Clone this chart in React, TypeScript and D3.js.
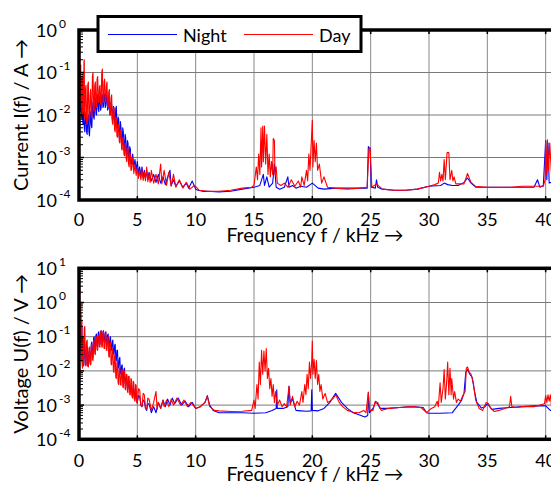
import React from "react";
import * as d3 from "d3";

// ---------- data ----------
const FREQ_TICKS = [0, 5, 10, 15, 20, 25, 30, 35, 40];
const CURRENT_EXPONENTS = [0, -1, -2, -3, -4];
const VOLTAGE_EXPONENTS = [1, 0, -1, -2, -3, -4];
const SERIES_NAMES = ["Night", "Day"];

// [frequency kHz, current A]
const currentNight: [number, number][] = [
  [0.0, 0.05], [0.025, 0.015], [0.05, 0.02], [0.075, 0.04], [0.1, 0.06], [0.125, 0.02], [0.15, 0.012],
  [0.175, 0.025], [0.2, 0.03], [0.225, 0.01], [0.25, 0.008], [0.275, 0.018], [0.3, 0.02], [0.325, 0.007],
  [0.35, 0.006], [0.375, 0.012], [0.4, 0.015], [0.45, 0.005], [0.5, 0.004], [0.55, 0.009], [0.6, 0.012],
  [0.65, 0.004], [0.7, 0.0035], [0.75, 0.008], [0.8, 0.01], [0.85, 0.004], [0.9, 0.0032], [0.95, 0.007],
  [1.0, 0.012], [1.05, 0.006], [1.1, 0.005], [1.15, 0.014], [1.2, 0.02], [1.25, 0.009], [1.3, 0.008],
  [1.35, 0.02], [1.4, 0.025], [1.45, 0.011], [1.5, 0.01], [1.55, 0.022], [1.6, 0.03], [1.65, 0.014],
  [1.7, 0.012], [1.75, 0.028], [1.8, 0.025], [1.85, 0.013], [1.9, 0.015], [1.95, 0.03], [2.0, 0.03],
  [2.05, 0.015], [2.1, 0.016], [2.15, 0.032], [2.2, 0.028], [2.25, 0.015], [2.3, 0.017], [2.35, 0.03],
  [2.4, 0.025], [2.45, 0.013], [2.5, 0.014], [2.55, 0.025], [2.6, 0.022], [2.65, 0.01], [2.7, 0.011],
  [2.75, 0.02], [2.8, 0.018], [2.85, 0.008], [2.9, 0.008], [2.95, 0.016], [3.0, 0.014], [3.05, 0.006],
  [3.1, 0.006], [3.15, 0.014], [3.2, 0.016], [3.25, 0.005], [3.3, 0.005], [3.35, 0.009], [3.4, 0.008],
  [3.45, 0.003], [3.5, 0.003], [3.55, 0.007], [3.6, 0.005], [3.65, 0.002], [3.7, 0.0022], [3.75, 0.005],
  [3.8, 0.004], [3.85, 0.0015], [3.9, 0.0016], [3.95, 0.0035], [4.0, 0.003], [4.05, 0.0011], [4.1, 0.0012],
  [4.15, 0.0025], [4.2, 0.0022], [4.25, 0.0009], [4.3, 0.0009], [4.35, 0.0018], [4.4, 0.0016], [4.45, 0.0007],
  [4.5, 0.0007], [4.6, 0.0012], [4.7, 0.0006], [4.8, 0.0009], [4.9, 0.0005], [5.0, 0.0008], [5.1, 0.00042],
  [5.2, 0.0006], [5.3, 0.00038], [5.4, 0.0006], [5.5, 0.00034], [5.6, 0.0005], [5.7, 0.00032], [5.8, 0.0005],
  [5.9, 0.0003], [6.0, 0.00045], [6.2, 0.00028], [6.4, 0.0004], [6.6, 0.00026], [6.8, 0.0004], [7.0, 0.00025],
  [7.2, 0.00035], [7.4, 0.00023], [7.6, 0.00035], [7.8, 0.0005], [7.9, 0.00022], [8.1, 0.0003], [8.3, 0.00021],
  [8.6, 0.00028], [8.9, 0.0002], [9.2, 0.00025], [9.4, 0.00019], [9.7, 0.00028], [10.0, 0.00018],
  [10.2, 0.00017], [10.6, 0.00016], [11.0, 0.00016], [12.0, 0.000155], [13.0, 0.00016], [14.0, 0.00018],
  [15.0, 0.0002], [15.5, 0.00022], [15.8, 0.0004], [15.9, 0.00022], [16.1, 0.00035], [16.3, 0.0002],
  [16.6, 0.00025], [16.75, 0.0007], [16.9, 0.0002], [17.2, 0.00018], [17.6, 0.0002], [17.9, 0.00035],
  [18.0, 0.0002], [18.3, 0.00022], [18.6, 0.00019], [19.0, 0.00021], [19.5, 0.0002], [20.0, 0.00025],
  [20.5, 0.00019], [21.0, 0.00018], [22.0, 0.00019], [23.0, 0.00019], [24.0, 0.00019], [24.7, 0.00019],
  [24.8, 0.0018], [24.95, 0.0016], [25.05, 0.0002], [25.4, 0.00019], [25.5, 0.0003], [25.6, 0.0002],
  [26.0, 0.00018], [27.0, 0.00017], [28.0, 0.00017], [29.0, 0.00018], [30.0, 0.00021], [31.0, 0.00022],
  [31.3, 0.00025], [31.6, 0.00023], [32.0, 0.00022], [32.5, 0.00022], [33.0, 0.00026], [33.3, 0.00033],
  [33.6, 0.00025], [34.0, 0.0002], [35.0, 0.0002], [36.0, 0.0002], [37.0, 0.0002], [38.0, 0.0002],
  [39.0, 0.0002], [39.3, 0.0003], [39.5, 0.0002], [39.8, 0.00022], [40.0, 0.0025], [40.1, 0.0003],
  [40.2, 0.0022], [40.3, 0.00025], [41.0, 0.0003],
];

const currentDay: [number, number][] = [
  [0.0, 1.0], [0.02, 0.05], [0.04, 0.5], [0.06, 0.4], [0.08, 0.03], [0.1, 0.02], [0.125, 0.12],
  [0.15, 0.15], [0.175, 0.02], [0.2, 0.015], [0.225, 0.06], [0.25, 0.08], [0.275, 0.012], [0.3, 0.01],
  [0.325, 0.09], [0.35, 0.1], [0.375, 0.015], [0.4, 0.012], [0.425, 0.18], [0.45, 0.2], [0.475, 0.01],
  [0.5, 0.008], [0.55, 0.04], [0.6, 0.05], [0.65, 0.007], [0.7, 0.006], [0.75, 0.05], [0.8, 0.06],
  [0.85, 0.008], [0.9, 0.007], [0.95, 0.03], [1.0, 0.04], [1.05, 0.01], [1.1, 0.009], [1.15, 0.08],
  [1.2, 0.1], [1.25, 0.014], [1.3, 0.012], [1.35, 0.05], [1.4, 0.06], [1.45, 0.016], [1.5, 0.015],
  [1.55, 0.07], [1.6, 0.08], [1.65, 0.02], [1.7, 0.02], [1.75, 0.045], [1.8, 0.05], [1.85, 0.018],
  [1.9, 0.018], [1.95, 0.1], [2.0, 0.12], [2.05, 0.02], [2.1, 0.02], [2.15, 0.06], [2.2, 0.07],
  [2.25, 0.022], [2.3, 0.02], [2.35, 0.05], [2.4, 0.06], [2.45, 0.016], [2.5, 0.015], [2.55, 0.035],
  [2.6, 0.04], [2.65, 0.011], [2.7, 0.01], [2.75, 0.025], [2.8, 0.03], [2.85, 0.007], [2.9, 0.006],
  [2.95, 0.014], [3.0, 0.015], [3.05, 0.0045], [3.1, 0.004], [3.15, 0.009], [3.2, 0.008], [3.25, 0.0032],
  [3.3, 0.003], [3.35, 0.006], [3.4, 0.006], [3.45, 0.0024], [3.5, 0.0022], [3.55, 0.0045], [3.6, 0.004],
  [3.65, 0.0016], [3.7, 0.0015], [3.75, 0.003], [3.8, 0.0028], [3.85, 0.0012], [3.9, 0.0011], [3.95, 0.0022],
  [4.0, 0.002], [4.05, 0.0009], [4.1, 0.0008], [4.15, 0.0017], [4.2, 0.0016], [4.25, 0.0007], [4.3, 0.0006],
  [4.35, 0.0013], [4.4, 0.0012], [4.45, 0.0005], [4.5, 0.0005], [4.6, 0.001], [4.7, 0.00042], [4.8, 0.0007],
  [4.9, 0.00038], [5.0, 0.0006], [5.1, 0.00032], [5.2, 0.0005], [5.3, 0.0003], [5.4, 0.0005], [5.5, 0.00029],
  [5.6, 0.00045], [5.7, 0.00028], [5.8, 0.0006], [5.9, 0.00027], [6.0, 0.0004], [6.1, 0.00026], [6.2, 0.0005],
  [6.4, 0.00025], [6.6, 0.0004], [6.8, 0.00024], [7.0, 0.0007], [7.1, 0.00024], [7.3, 0.0005], [7.5, 0.00022],
  [7.7, 0.00045], [7.9, 0.00021], [8.1, 0.0004], [8.3, 0.0002], [8.6, 0.0003], [8.9, 0.00019], [9.2, 0.00026],
  [9.5, 0.00018], [9.9, 0.00022], [10.3, 0.00017], [11.0, 0.00016], [12.0, 0.00016], [13.0, 0.00017],
  [14.0, 0.00019], [14.8, 0.0002], [15.0, 0.00022], [15.2, 0.0006], [15.3, 0.0003], [15.4, 0.0012],
  [15.5, 0.0004], [15.6, 0.005], [15.65, 0.0006], [15.75, 0.0055], [15.8, 0.0008], [15.9, 0.0055],
  [16.0, 0.0007], [16.1, 0.0035], [16.2, 0.0004], [16.3, 0.0012], [16.4, 0.00035], [16.5, 0.0008],
  [16.6, 0.0004], [16.65, 0.0028], [16.75, 0.0025], [16.8, 0.0004], [16.9, 0.0006], [17.0, 0.00025],
  [17.3, 0.00022], [17.6, 0.00025], [17.9, 0.0002], [18.2, 0.0003], [18.5, 0.00021], [18.8, 0.00028],
  [19.0, 0.0002], [19.1, 0.00035], [19.3, 0.00022], [19.5, 0.0005], [19.6, 0.00028], [19.7, 0.0012],
  [19.8, 0.0005], [19.9, 0.002], [20.0, 0.0075], [20.05, 0.0006], [20.15, 0.0025], [20.25, 0.0008],
  [20.35, 0.0022], [20.45, 0.0005], [20.6, 0.0007], [20.8, 0.00025], [21.0, 0.00035], [21.3, 0.0002],
  [22.0, 0.00019], [23.0, 0.00018], [24.0, 0.00019], [24.7, 0.0002], [24.85, 0.0016], [24.95, 0.0017],
  [25.1, 0.0002], [25.5, 0.00024], [26.0, 0.00018], [27.0, 0.00017], [28.0, 0.00017], [29.0, 0.00018],
  [30.0, 0.00021], [30.5, 0.00023], [30.8, 0.00025], [30.9, 0.00045], [31.0, 0.00028], [31.1, 0.0004],
  [31.2, 0.00028], [31.3, 0.0009], [31.4, 0.0003], [31.55, 0.0013], [31.7, 0.0013], [31.8, 0.0003],
  [31.95, 0.0005], [32.05, 0.00028], [32.15, 0.00035], [32.3, 0.00024], [33.0, 0.00024], [33.3, 0.00042],
  [33.6, 0.00026], [34.0, 0.00021], [35.0, 0.0002], [36.0, 0.0002], [37.0, 0.0002], [38.0, 0.00021],
  [39.0, 0.00021], [39.8, 0.00021], [39.95, 0.0003], [40.0, 0.0024], [40.05, 0.0004], [40.15, 0.0026],
  [40.25, 0.0005], [40.35, 0.0022], [40.5, 0.0004], [41.0, 0.0003],
];

// [frequency kHz, voltage V]
const voltageNight: [number, number][] = [
  [0.0, 2.3], [0.02, 0.5], [0.04, 0.8], [0.06, 1.0], [0.08, 0.15], [0.1, 0.1], [0.125, 0.4], [0.15, 0.5],
  [0.175, 0.04], [0.2, 0.03], [0.225, 0.15], [0.25, 0.2], [0.275, 0.02], [0.3, 0.015], [0.325, 0.07],
  [0.35, 0.08], [0.375, 0.016], [0.4, 0.014], [0.45, 0.05], [0.5, 0.06], [0.55, 0.016], [0.6, 0.015],
  [0.65, 0.045], [0.7, 0.05], [0.75, 0.015], [0.8, 0.014], [0.85, 0.035], [0.9, 0.04], [0.95, 0.018],
  [1.0, 0.016], [1.05, 0.06], [1.1, 0.07], [1.15, 0.028], [1.2, 0.025], [1.25, 0.09], [1.3, 0.1],
  [1.35, 0.045], [1.4, 0.04], [1.45, 0.11], [1.5, 0.12], [1.55, 0.055], [1.6, 0.05], [1.65, 0.13],
  [1.7, 0.14], [1.75, 0.065], [1.8, 0.06], [1.85, 0.14], [1.9, 0.15], [1.95, 0.075], [2.0, 0.07],
  [2.05, 0.14], [2.1, 0.15], [2.15, 0.075], [2.2, 0.07], [2.25, 0.13], [2.3, 0.14], [2.35, 0.065],
  [2.4, 0.06], [2.45, 0.11], [2.5, 0.12], [2.55, 0.055], [2.6, 0.05], [2.65, 0.09], [2.7, 0.1],
  [2.75, 0.045], [2.8, 0.04], [2.85, 0.07], [2.9, 0.08], [2.95, 0.033], [3.0, 0.03], [3.05, 0.055],
  [3.1, 0.06], [3.15, 0.022], [3.2, 0.02], [3.25, 0.04], [3.3, 0.04], [3.35, 0.014], [3.4, 0.012],
  [3.45, 0.022], [3.5, 0.025], [3.55, 0.009], [3.6, 0.008], [3.65, 0.014], [3.7, 0.015], [3.75, 0.0055],
  [3.8, 0.005], [3.85, 0.011], [3.9, 0.012], [3.95, 0.0045], [4.0, 0.004], [4.05, 0.0065], [4.1, 0.007],
  [4.15, 0.0032], [4.2, 0.003], [4.25, 0.0048], [4.3, 0.005], [4.35, 0.0026], [4.4, 0.0025], [4.45, 0.0038],
  [4.5, 0.004], [4.55, 0.0019], [4.6, 0.0018], [4.65, 0.0028], [4.7, 0.003], [4.75, 0.0016], [4.8, 0.0015],
  [4.85, 0.0024], [4.9, 0.0025], [4.95, 0.0013], [5.0, 0.0012], [5.1, 0.0019], [5.2, 0.0018], [5.3, 0.001],
  [5.4, 0.0009], [5.5, 0.0014], [5.6, 0.0013], [5.7, 0.0008], [5.8, 0.0007], [5.9, 0.0011], [6.0, 0.0011],
  [6.2, 0.0006], [6.4, 0.0009], [6.6, 0.0006], [6.8, 0.0012], [7.0, 0.0008], [7.2, 0.0014], [7.4, 0.0009],
  [7.6, 0.0015], [7.8, 0.001], [8.0, 0.0016], [8.2, 0.0011], [8.5, 0.0016], [8.8, 0.001], [9.1, 0.0013],
  [9.4, 0.0009], [9.7, 0.0012], [10.0, 0.0008], [10.4, 0.0009], [10.8, 0.0012], [11.0, 0.0019],
  [11.2, 0.001], [11.5, 0.0007], [12.0, 0.0006], [13.0, 0.0006], [14.0, 0.0006], [15.0, 0.00058],
  [16.0, 0.0006], [16.5, 0.00068], [16.9, 0.0008], [16.95, 0.0028], [17.0, 0.0008], [17.5, 0.0008],
  [17.9, 0.0009], [18.0, 0.0036], [18.1, 0.0012], [18.3, 0.0015], [18.6, 0.0007], [19.0, 0.00068],
  [19.5, 0.00066], [19.9, 0.00068], [19.95, 0.0028], [20.0, 0.0007], [20.5, 0.00068], [21.0, 0.0008],
  [21.5, 0.0012], [22.0, 0.0022], [22.5, 0.0012], [23.0, 0.0008], [23.5, 0.0006], [24.0, 0.00052],
  [24.5, 0.00045], [24.75, 0.0005], [24.8, 0.0023], [24.9, 0.0006], [25.2, 0.0008], [25.4, 0.0012],
  [25.6, 0.0011], [25.8, 0.0008], [26.5, 0.0008], [27.5, 0.00085], [28.5, 0.0009], [29.5, 0.00085],
  [29.8, 0.0006], [30.0, 0.00058], [31.0, 0.00058], [32.0, 0.0006], [32.5, 0.001], [32.8, 0.0014],
  [33.0, 0.0022], [33.15, 0.009], [33.3, 0.011], [33.5, 0.008], [33.7, 0.0065], [33.9, 0.0025],
  [34.1, 0.0012], [34.5, 0.00082], [34.8, 0.0009], [35.0, 0.0011], [35.2, 0.0009], [35.4, 0.00075],
  [36.0, 0.0008], [37.0, 0.00085], [38.0, 0.0009], [39.0, 0.00095], [40.0, 0.00095], [40.4, 0.0007],
  [41.0, 0.0007],
];

const voltageDay: [number, number][] = [
  [0.0, 10], [0.02, 0.6], [0.04, 5], [0.06, 4], [0.08, 0.06], [0.1, 0.05], [0.125, 0.8], [0.15, 1.0],
  [0.175, 0.025], [0.2, 0.02], [0.225, 0.25], [0.25, 0.3], [0.275, 0.014], [0.3, 0.012], [0.325, 0.09],
  [0.35, 0.1], [0.375, 0.016], [0.4, 0.015], [0.45, 0.18], [0.5, 0.2], [0.55, 0.015], [0.6, 0.014],
  [0.65, 0.07], [0.7, 0.08], [0.75, 0.014], [0.8, 0.013], [0.85, 0.045], [0.9, 0.05], [0.95, 0.016],
  [1.0, 0.015], [1.05, 0.055], [1.1, 0.06], [1.15, 0.022], [1.2, 0.02], [1.25, 0.07], [1.3, 0.08],
  [1.35, 0.032], [1.4, 0.03], [1.45, 0.09], [1.5, 0.1], [1.55, 0.042], [1.6, 0.04], [1.65, 0.1],
  [1.7, 0.11], [1.75, 0.05], [1.8, 0.05], [1.85, 0.14], [1.9, 0.15], [1.95, 0.05], [2.0, 0.05],
  [2.05, 0.13], [2.1, 0.14], [2.15, 0.045], [2.2, 0.045], [2.25, 0.12], [2.3, 0.13], [2.35, 0.04],
  [2.4, 0.04], [2.45, 0.09], [2.5, 0.1], [2.55, 0.027], [2.6, 0.025], [2.65, 0.065], [2.7, 0.07],
  [2.75, 0.016], [2.8, 0.015], [2.85, 0.04], [2.9, 0.045], [2.95, 0.01], [3.0, 0.009], [3.05, 0.028],
  [3.1, 0.03], [3.15, 0.0065], [3.2, 0.006], [3.25, 0.018], [3.3, 0.02], [3.35, 0.0045], [3.4, 0.004],
  [3.45, 0.011], [3.5, 0.012], [3.55, 0.004], [3.6, 0.0038], [3.65, 0.01], [3.7, 0.011], [3.75, 0.0035],
  [3.8, 0.0032], [3.85, 0.009], [3.9, 0.01], [3.95, 0.003], [4.0, 0.0028], [4.05, 0.008], [4.1, 0.008],
  [4.15, 0.0025], [4.2, 0.0023], [4.25, 0.007], [4.3, 0.007], [4.35, 0.002], [4.4, 0.002], [4.45, 0.006],
  [4.5, 0.0055], [4.55, 0.0017], [4.6, 0.0016], [4.65, 0.005], [4.7, 0.0045], [4.75, 0.0014], [4.8, 0.0013],
  [4.85, 0.004], [4.9, 0.0038], [4.95, 0.0012], [5.0, 0.0011], [5.1, 0.003], [5.2, 0.0028], [5.3, 0.001],
  [5.4, 0.0009], [5.5, 0.0022], [5.6, 0.002], [5.7, 0.0008], [5.8, 0.00075], [5.9, 0.0016], [6.0, 0.0015],
  [6.2, 0.0007], [6.4, 0.0012], [6.6, 0.0025], [6.7, 0.00075], [6.8, 0.0012], [7.0, 0.0008], [7.2, 0.0014],
  [7.3, 0.0009], [7.5, 0.0014], [7.7, 0.0009], [7.9, 0.0015], [8.1, 0.001], [8.4, 0.0016], [8.7, 0.001],
  [9.0, 0.0014], [9.3, 0.0009], [9.6, 0.0012], [10.0, 0.0008], [10.4, 0.0009], [10.8, 0.0012],
  [11.0, 0.0018], [11.2, 0.0009], [11.6, 0.0007], [12.0, 0.00068], [13.0, 0.00065], [14.0, 0.00066],
  [14.8, 0.0007], [15.0, 0.0014], [15.1, 0.0008], [15.25, 0.004], [15.35, 0.0015], [15.45, 0.018],
  [15.55, 0.004], [15.65, 0.04], [15.75, 0.008], [15.85, 0.038], [15.95, 0.01], [16.05, 0.045],
  [16.15, 0.006], [16.25, 0.012], [16.35, 0.003], [16.45, 0.006], [16.55, 0.0018], [16.65, 0.004],
  [16.75, 0.0012], [16.85, 0.0025], [17.0, 0.001], [17.2, 0.0014], [17.4, 0.0009], [17.6, 0.0011],
  [17.8, 0.0009], [18.0, 0.0035], [18.1, 0.001], [18.3, 0.0018], [18.5, 0.0009], [18.7, 0.0013],
  [18.9, 0.001], [19.1, 0.0025], [19.2, 0.0012], [19.35, 0.004], [19.45, 0.002], [19.55, 0.008],
  [19.65, 0.003], [19.75, 0.018], [19.85, 0.006], [19.95, 0.02], [20.0, 0.075], [20.05, 0.008],
  [20.15, 0.022], [20.25, 0.006], [20.35, 0.02], [20.45, 0.004], [20.55, 0.008], [20.65, 0.0025],
  [20.75, 0.004], [20.9, 0.0015], [21.1, 0.0022], [21.3, 0.0012], [21.5, 0.0013], [21.8, 0.0016],
  [22.0, 0.002], [22.3, 0.0012], [22.6, 0.0009], [23.0, 0.0007], [23.5, 0.00062], [24.0, 0.0006],
  [24.4, 0.0007], [24.6, 0.0006], [24.8, 0.0024], [24.9, 0.0007], [25.2, 0.0007], [25.4, 0.0013],
  [25.6, 0.0012], [25.9, 0.0007], [26.5, 0.0008], [27.5, 0.00085], [28.5, 0.0009], [29.3, 0.00085],
  [29.8, 0.0006], [30.2, 0.0008], [30.5, 0.0009], [30.7, 0.0013], [30.8, 0.0009], [30.95, 0.0045],
  [31.05, 0.0012], [31.2, 0.003], [31.3, 0.011], [31.4, 0.0015], [31.5, 0.004], [31.6, 0.018],
  [31.7, 0.002], [31.8, 0.012], [31.9, 0.002], [31.95, 0.006], [32.1, 0.0015], [32.2, 0.0025],
  [32.35, 0.0012], [32.5, 0.0015], [32.7, 0.0013], [32.9, 0.0019], [33.1, 0.0025], [33.2, 0.012],
  [33.3, 0.013], [33.45, 0.009], [33.6, 0.008], [33.8, 0.0045], [34.0, 0.0014], [34.3, 0.0008],
  [34.6, 0.0007], [34.9, 0.0012], [35.1, 0.0011], [35.3, 0.0008], [35.6, 0.00065], [36.0, 0.0007],
  [36.5, 0.0008], [36.9, 0.0009], [37.0, 0.0018], [37.1, 0.0009], [37.5, 0.00085], [38.0, 0.0009],
  [39.0, 0.0009], [39.5, 0.001], [39.9, 0.0011], [40.0, 0.0019], [40.1, 0.0012], [40.2, 0.002],
  [40.3, 0.0013], [40.4, 0.002], [40.5, 0.0009], [41.0, 0.0008],
];

// ---------- layout ----------
const W = 551;
const H = 482;
const FONT = "Lato, 'Open Sans', sans-serif";
const LEFT = 79;
const X_MAX_DOMAIN = 45;
const RIGHT = 604;

type PanelProps = {
  id: string;
  top: number;
  bottom: number;
  exps: number[];
  night: [number, number][];
  day: [number, number][];
  yLabel: string;
  xLabelY: number;
  tickLabelY: number;
};

function Panel({ id, top, bottom, exps, night, day, yLabel, xLabelY, tickLabelY }: PanelProps) {
  const x = d3.scaleLinear().domain([0, X_MAX_DOMAIN]).range([LEFT, RIGHT]);
  const maxE = d3.max(exps)!;
  const minE = d3.min(exps)!;
  const y = d3.scaleLog().domain([Math.pow(10, minE), Math.pow(10, maxE)]).range([bottom, top]);
  const line = d3
    .line<[number, number]>()
    .x((d) => x(d[0]))
    .y((d) => y(d[1]));

  const minor: number[] = [];
  for (let e = minE; e < maxE; e++) {
    for (let k = 2; k <= 9; k++) minor.push(k * Math.pow(10, e));
  }

  return (
    <g>
      <defs>
        <clipPath id={`clip-${id}`}>
          <rect x={LEFT} y={top} width={RIGHT - LEFT} height={bottom - top} />
        </clipPath>
      </defs>
      <rect x={LEFT} y={top} width={RIGHT - LEFT} height={bottom - top} fill="#fff" />
      {/* grid */}
      {FREQ_TICKS.filter((t) => t > 0).map((t) => (
        <line key={`gx${t}`} x1={x(t)} x2={x(t)} y1={top} y2={bottom} stroke="#8a8a8a" strokeWidth={1} />
      ))}
      {exps
        .filter((e) => e !== maxE && e !== minE)
        .map((e) => (
          <line key={`gy${e}`} x1={LEFT} x2={RIGHT} y1={y(Math.pow(10, e))} y2={y(Math.pow(10, e))} stroke="#7a7a7a" strokeWidth={1} />
        ))}
      {/* data */}
      <g clipPath={`url(#clip-${id})`}>
        <path d={line(night) || ""} fill="none" stroke="#0000ff" strokeWidth={1.1} strokeLinejoin="round" />
        <path d={line(day) || ""} fill="none" stroke="#ff0000" strokeWidth={1.1} strokeLinejoin="round" />
      </g>
      {/* ticks */}
      {FREQ_TICKS.map((t) => (
        <g key={`tx${t}`}>
          <line x1={x(t)} x2={x(t)} y1={bottom} y2={bottom - 4} stroke="#000" strokeWidth={1.5} />
          <line x1={x(t)} x2={x(t)} y1={top} y2={top + 4} stroke="#000" strokeWidth={1.5} />
        </g>
      ))}
      {minor.map((v, i) => (
        <line key={`mn${i}`} x1={LEFT} x2={LEFT + 4} y1={y(v)} y2={y(v)} stroke="#000" strokeWidth={1} />
      ))}
      {exps.map((e) => (
        <line key={`mj${e}`} x1={LEFT} x2={LEFT + 5} y1={y(Math.pow(10, e))} y2={y(Math.pow(10, e))} stroke="#000" strokeWidth={1.5} />
      ))}
      {/* frame */}
      <rect x={LEFT} y={top} width={RIGHT - LEFT} height={bottom - top} fill="none" stroke="#000" strokeWidth={3.5} />
      {/* y tick labels */}
      {exps.map((e) => (
        <g key={`yl${e}`} fontFamily={FONT} fill="#000">
          <text x={57} y={y(Math.pow(10, e)) + 6.5} fontSize={18} textAnchor="end">10</text>
          <text x={59} y={y(Math.pow(10, e)) - 2.5} fontSize={12}>{e < 0 ? `-${-e}` : `${e}`}</text>
        </g>
      ))}
      {/* x tick labels */}
      {FREQ_TICKS.map((t) => (
        <text key={`xl${t}`} x={x(t)} y={tickLabelY} fontSize={18} textAnchor="middle" fontFamily={FONT} fill="#000">
          {t}
        </text>
      ))}
      <text x={315} y={xLabelY} fontSize={19.5} textAnchor="middle" fontFamily={FONT} fill="#000">
        Frequency f / kHz →
      </text>
      <text
        transform={`translate(28,${(top + bottom) / 2}) rotate(-90)`}
        fontSize={20}
        textAnchor="middle"
        fontFamily={FONT}
        fill="#000"
      >
        {yLabel}
      </text>
    </g>
  );
}

export default function App() {
  return (
    <svg
      width={W}
      height={H}
      viewBox={`0 0 ${W} ${H}`}
      style={{ position: "absolute", left: 0, top: 0, background: "#fff" }}
    >
      <rect width={W} height={H} fill="#fff" />
      <Panel
        id="cur"
        top={30}
        bottom={200}
        exps={CURRENT_EXPONENTS}
        night={currentNight}
        day={currentDay}
        yLabel="Current I(f) / A →"
        xLabelY={242}
        tickLabelY={225.5}
      />
      <Panel
        id="vol"
        top={268.3}
        bottom={439.3}
        exps={VOLTAGE_EXPONENTS}
        night={voltageNight}
        day={voltageDay}
        yLabel="Voltage U(f) / V →"
        xLabelY={480.5}
        tickLabelY={466.5}
      />
      {/* legend */}
      <g fontFamily={FONT} fontSize={18} fill="#000">
        <rect x={98} y={16.5} width={263} height={35} fill="#fff" stroke="#000" strokeWidth={3} />
        <line x1={108} x2={177} y1={34.5} y2={34.5} stroke="#0000ff" strokeWidth={1} />
        <text x={183} y={42}>{SERIES_NAMES[0]}</text>
        <line x1={244} x2={313} y1={34.5} y2={34.5} stroke="#ff0000" strokeWidth={1} />
        <text x={319} y={42}>{SERIES_NAMES[1]}</text>
      </g>
    </svg>
  );
}
